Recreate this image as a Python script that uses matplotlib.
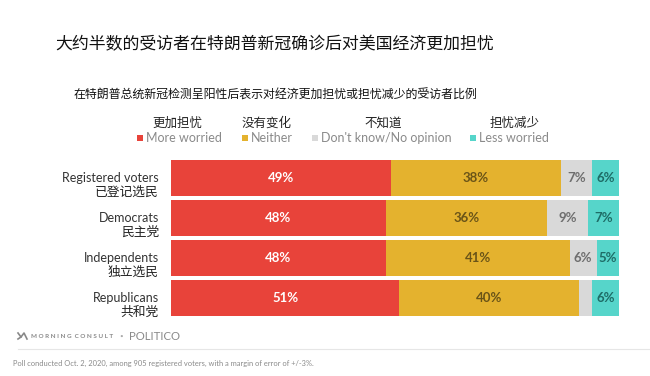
import matplotlib
matplotlib.use("Agg")
import matplotlib.pyplot as plt
from matplotlib.patches import Rectangle
from matplotlib.lines import Line2D
import numpy as np

plt.rcParams['font.family'] = ['Lato', 'Noto Sans CJK SC', 'DejaVu Sans']

# ---------------- data ----------------
categories_en = ["Registered voters", "Democrats", "Independents", "Republicans"]
categories_zh = ["已登记选民", "民主党", "独立选民", "共和党"]
more_worried = [49, 48, 48, 51]
neither = [38, 36, 41, 40]
dont_know = [7, 9, 6, 3]
less_worried = [6, 7, 5, 6]
series_en = ["More worried", "Neither", "Don't know/No opinion", "Less worried"]
series_zh = ["更加担忧", "没有变化", "不知道", "担忧减少"]

title = "大约半数的受访者在特朗普新冠确诊后对美国经济更加担忧"
subtitle = "在特朗普总统新冠检测呈阳性后表示对经济更加担忧或担忧减少的受访者比例"
footnote = "Poll conducted Oct. 2, 2020, among 905 registered voters, with a margin of error of +/-3%."
brand1 = "MORNING CONSULT"
brand2 = "POLITICO"

colors = ["#E8433A", "#E4B22E", "#D9D9D9", "#56D5CA"]
text_colors = ["#FFFFFF", "#6A5418", "#6E6E6E", "#1E6C66"]

W, H = 650, 376
fig = plt.figure(figsize=(W / 100, H / 100), dpi=100)
fig.patch.set_facecolor("white")


def fx(x):
    return x / W


def fy(y):
    return 1 - y / H


# titles
fig.text(fx(275), fy(44), title, ha="center", va="center", fontsize=12.2,
         family=["Noto Sans CJK SC"], color="#111111")
fig.text(fx(275), fy(95), subtitle, ha="center", va="center", fontsize=8.6,
         family=["Noto Sans CJK SC"], color="#111111")

# legend
sq = 6
legend_items = [
    (137, 177),
    (242, 267),
    (312, 383),
    (470, 515),
]
for i, (sx, zc) in enumerate(legend_items):
    fig.add_artist(Rectangle((fx(sx), fy(138 + sq / 2)), sq / W, sq / H,
                             transform=fig.transFigure, facecolor=colors[i],
                             edgecolor="none"))
    fig.text(fx(sx + sq + 3), fy(138), series_en[i], ha="left", va="center",
             fontsize=9, color="#8a8a8a")
    fig.text(fx(zc), fy(123), series_zh[i], ha="center", va="center",
             fontsize=9, family=["Noto Sans CJK SC"], color="#222222")

# bars
ax = fig.add_axes([fx(171), fy(318), 448 / W, 160 / H])
ypos = np.arange(len(categories_en))
series = [more_worried, neither, dont_know, less_worried]
left = np.zeros(len(categories_en))
for i, vals in enumerate(series):
    vals = np.array(vals, dtype=float)
    ax.barh(ypos, vals, left=left, height=0.9, color=colors[i], edgecolor="none")
    for j, v in enumerate(vals):
        if v >= 5:
            ax.text(left[j] + v / 2, ypos[j], f"{int(v)}%", ha="center",
                    va="center", fontsize=9.5, fontweight="bold",
                    color=text_colors[i])
    left += vals
ax.set_xlim(0, 100)
ax.set_ylim(len(categories_en) - 0.5, -0.5)
ax.axis("off")

# category labels
row_centers = [178, 218, 258, 298]
for j in range(len(categories_en)):
    fig.text(fx(159), fy(row_centers[j]), categories_en[j], ha="right",
             va="center", fontsize=9, color="#333333")
    fig.text(fx(159), fy(row_centers[j] + 14), categories_zh[j], ha="right",
             va="center", fontsize=9.2, family=["Noto Sans CJK SC"],
             color="#222222")

# footer logo
lx, ly = 18, 336
fig.add_artist(Line2D([fx(lx), fx(lx + 3), fx(lx + 6), fx(lx + 9)],
                      [fy(ly - 3), fy(ly + 1), fy(ly - 3), fy(ly + 3)],
                      transform=fig.transFigure, color="#888888", lw=1.2))
fig.add_artist(Line2D([fx(lx), fx(lx + 3)], [fy(ly + 3), fy(ly + 1)],
                      transform=fig.transFigure, color="#888888", lw=1.2))
fig.text(fx(31), fy(ly), " ".join(brand1).replace("G   C", "G  C"), ha="left",
         va="center", fontsize=4.6, fontweight="bold", color="#8a8a8a")
fig.text(fx(121), fy(ly), "•", ha="center", va="center", fontsize=4.5,
         color="#aaaaaa")
fig.text(fx(129), fy(ly), brand2, ha="left", va="center", fontsize=8.2,
         color="#8a8a8a")
fig.add_artist(Line2D([fx(18), fx(650)], [fy(349), fy(349)],
                      transform=fig.transFigure, color="#e6e6e6", lw=0.8))
fig.text(fx(13), fy(363), footnote, ha="left", va="center", fontsize=5.4,
         color="#8a8a8a")

fig.savefig("out.png", dpi=100, facecolor="white")
